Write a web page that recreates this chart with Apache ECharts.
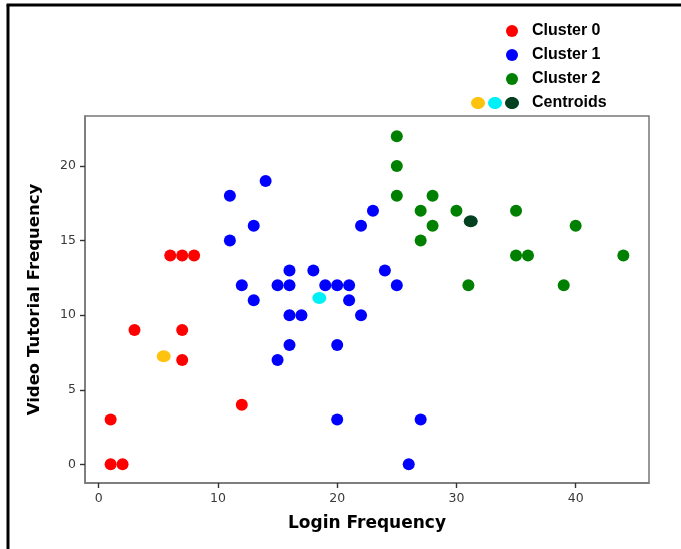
<!DOCTYPE html>
<html>
<head>
<meta charset="utf-8">
<script src="https://cdn.jsdelivr.net/npm/echarts@6/dist/echarts.min.js"></script>
<style>
  html, body { margin: 0; padding: 0; background: #fff; }
  #chart { width: 681px; height: 549px; }
</style>
</head>
<body>
<div id="chart"></div>
<script>
// points: [login, video]
const cluster0 = [[1, 0], [2, 0], [1, 3], [12, 4], [7, 7], [3, 9], [7, 9], [6, 14], [7, 14], [8, 14]]
const cluster1 = [
  [14, 19], [11, 18], [13, 16], [11, 15], [16, 13], [18, 13], [23, 17], [22, 16],
  [12, 12], [15, 12], [16, 12], [19, 12], [20, 12], [21, 12], [13, 11], [21, 11],
  [24, 13], [25, 12], [16, 10], [17, 10], [22, 10], [16, 8], [20, 8], [15, 7],
  [20, 3], [27, 3], [26, 0]
]
const cluster2 = [
  [25, 22], [25, 20], [25, 18], [28, 18], [27, 17], [30, 17], [35, 17], [28, 16],
  [40, 16], [27, 15], [35, 14], [36, 14], [44, 14], [31, 12], [39, 12]
]
const centroids = [[5.45, 7.25], [18.5, 11.15], [31.2, 16.3]]

const clusterNames = ['Cluster 0', 'Cluster 1', 'Cluster 2']
const clusterColors = ['#ff0000', '#0000ff', '#008000']
const centroidColors = ['#ffc20e', '#00f0f8', '#03401f']
const xTicks = [0, 10, 20, 30, 40]
const yTicks = [0, 5, 10, 15, 20]

const chart = echarts.init(document.getElementById('chart'))

const tickFont = { color: '#3a3a3a', fontFamily: 'DejaVu Sans', fontSize: 12.5 }
const titleFont = { color: '#000', fontFamily: 'DejaVu Sans', fontWeight: 'bold', fontSize: 17 }

// legend drawn by hand so the centroid row can show its three dots
const legendItems = []
clusterNames.forEach(function(name, i) {
  legendItems.push({
    type: 'circle', shape: { cx: 512, cy: 31 + i * 24, r: 6 },
    style: { fill: clusterColors[i] }
  })
  legendItems.push({
    type: 'text', x: 532, y: 31 + i * 24,
    style: { text: name, fill: '#000', font: 'bold 16px "Liberation Sans"', verticalAlign: 'middle' }
  })
})
centroidColors.forEach(function(c, i) {
  legendItems.push({
    type: 'ellipse', shape: { cx: 478 + i * 17, cy: 103, rx: 7, ry: 6 },
    style: { fill: c }
  })
})
legendItems.push({
  type: 'text', x: 532, y: 103,
  style: { text: 'Centroids', fill: '#000', font: 'bold 16px "Liberation Sans"', verticalAlign: 'middle' }
})

const option = {
  animation: false,
  grid: {
    left: 85, right: 32, top: 116, bottom: 66,
    show: true, borderColor: '#777', borderWidth: 1.5,
    outerBoundsMode: 'none'
  },
  xAxis: {
    type: 'value', min: -1.15, max: 46.15,
    splitLine: { show: false },
    axisLine: { show: true, onZero: false, lineStyle: { color: '#777', width: 1.5 } },
    axisTick: { show: true, length: 5, customValues: xTicks, lineStyle: { color: '#333', width: 1.4 } },
    axisLabel: Object.assign({ customValues: xTicks, margin: 9 }, tickFont),
    name: 'Login Frequency', nameLocation: 'middle', nameGap: 32, nameMoveOverlap: false,
    nameTextStyle: titleFont
  },
  yAxis: {
    type: 'value', min: -1.25, max: 23.35,
    splitLine: { show: false },
    axisLine: { show: true, onZero: false, lineStyle: { color: '#777', width: 1.5 } },
    axisTick: { show: true, length: 5, customValues: yTicks, lineStyle: { color: '#333', width: 1.4 } },
    axisLabel: Object.assign({ customValues: yTicks, margin: 9 }, tickFont),
    name: 'Video Tutorial Frequency', nameLocation: 'middle', nameGap: 42, nameMoveOverlap: false,
    nameTextStyle: Object.assign({}, titleFont, { fontSize: 16.5 })
  },
  series: [
    { name: clusterNames[0], type: 'scatter', data: cluster0, symbolSize: 12, itemStyle: { color: clusterColors[0], opacity: 1 } },
    { name: clusterNames[1], type: 'scatter', data: cluster1, symbolSize: 12, itemStyle: { color: clusterColors[1], opacity: 1 } },
    { name: clusterNames[2], type: 'scatter', data: cluster2, symbolSize: 12, itemStyle: { color: clusterColors[2], opacity: 1 } },
    {
      name: 'Centroids', type: 'scatter', z: 5, symbolSize: [14, 12],
      data: centroids.map(function(p, i) {
        return { value: p, itemStyle: { color: centroidColors[i], opacity: 1 } }
      })
    }
  ],
  graphic: [
    // outer frame of the figure (left and top edges only)
    { type: 'line', shape: { x1: 8, y1: 5, x2: 8, y2: 549 }, style: { stroke: '#000', lineWidth: 3 } },
    { type: 'line', shape: { x1: 6.5, y1: 5, x2: 681, y2: 5 }, style: { stroke: '#000', lineWidth: 3 } }
  ].concat(legendItems)
}

chart.setOption(option)
</script>
</body>
</html>
